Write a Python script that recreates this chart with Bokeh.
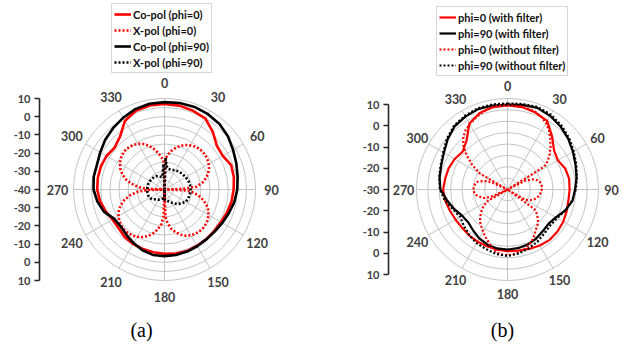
import math
from bokeh.plotting import figure
from bokeh.models import Range1d, LinearAxis, FixedTicker, Legend, LegendItem, CustomJSTickFormatter
from bokeh.layouts import row
from bokeh.embed import file_html
from bokeh.resources import INLINE
from bokeh.core.properties import value

# ---------------- data ----------------
ANGLE_TICKS = [0, 30, 60, 90, 120, 150, 180, 210, 240, 270, 300, 330]
ANG10 = list(range(0, 360, 10))

# panel (a): radial scale -40 .. 10 dB
A_RED_CO = [7, 6.8, 6, 5, 1.3, -2.5, -3, -1, -1.3, -2, -2.6, -3.4, -4.2, -4.4, -4.3, -4.3, -4, -4.3,
            -4.7, -5, -5.2, -5.5, -6, -7, -7, -5.5, -4, -3, -2.8, -2.8, -3.2, -4.2, -2, 3.5, 6, 6.9]
A_BLACK_CO = [8, 8.3, 8.3, 7.8, 7, 5.5, 3.5, 2, 0.8, 0, -1, -2.3, -3.3, -4, -4.2, -4, -3.7, -3.5,
              -3.4, -3.5, -4.5, -6, -7.5, -8.5, -8, -4.5, -2.5, -1, -0.5, -0.5, 0.8, 2.5, 4, 5.5, 7, 7.8]
A_RED_X_ANG = [0, 2, 5, 10, 15, 20, 25, 30, 35, 40, 45, 50, 55, 60, 65, 70, 75, 80, 85, 88,
               90, 92, 95, 100, 105, 110, 115, 120, 125, 130, 135, 140, 145, 150, 155, 160, 165, 170, 175, 178,
               180, 182, 185, 190, 195, 200, 205, 210, 215, 220, 225, 230, 235, 240, 245, 250, 255, 260, 265, 268,
               270, 272, 275, 280, 285, 290, 295, 300, 305, 310, 315, 320, 325, 330, 335, 340, 345, 350, 355, 358]
A_RED_X = [-40, -23, -21, -18.5, -16.3, -14.5, -13, -12, -11.2, -10.7, -10.5, -10.7, -11.2, -12, -13, -14.5, -16.5, -19, -22.5, -29.5,
           -40, -29.5, -25, -21, -18, -15.5, -13.5, -12, -11, -10.4, -10, -10, -10.3, -11, -12, -13.5, -15.5, -18, -21.5, -25,
           -40, -25, -21, -17.5, -14.8, -12.7, -11.2, -10, -9.2, -8.8, -8.7, -9, -9.7, -10.8, -12.3, -14.3, -17, -20.5, -25, -30.5,
           -40, -30.5, -26, -21.5, -18, -15.3, -13.2, -11.7, -10.6, -9.9, -9.5, -9.6, -10.1, -11, -12.4, -14.3, -16.8, -19.5, -22.5, -24]
A_BLACK_X_ANG = [0, 2, 5, 10, 20, 30, 40, 50, 60, 70, 80, 90, 100, 110, 120, 130, 140, 150, 160, 170, 178,
                 180, 182, 190, 200, 210, 220, 230, 240, 250, 260, 270, 280, 290, 300, 310, 320, 330, 340, 350, 358]
A_BLACK_X = [-40, -22.5, -27, -28.5, -28.5, -27.8, -27.3, -27, -26.5, -26, -25.8, -25.7, -25.8, -26, -26.5, -28, -29.5, -31.5, -33, -34, -34,
             -40, -34, -35, -34.5, -33.5, -33, -31.5, -30.7, -30.5, -30.5, -30.5, -30.5, -30.6, -30.8, -31, -31, -31.5, -32.5, -33, -26]

# panel (b): radial scale -30 .. 10 dB
B_RED_F = [7, 6.8, 6, 4.8, 0.5, -3.3, -4.4, -3, -2.5, -2.7, -2.8, -2.3, -1.7, -1.3, -1.1, -1.6, -2.2, -2.7,
           -2.9, -3.2, -3.5, -3.6, -3.7, -3.9, -3.6, -3, -2.2, -1.7, -2.2, -2.5, -3.2, -4.2, -2, 3.5, 5.8, 6.8]
B_BLACK_F = [7.3, 7.8, 8.2, 7.4, 6.2, 4.8, 3.2, 1.8, 0.8, -0.3, -1, -3, -5.5, -6.5, -6, -5, -4.2, -3.8,
             -3.6, -3.7, -4.2, -5.2, -6.5, -7.5, -7, -5, -3, -0.5, 0.3, 1, 2.3, 4.3, 6.2, 7, 7.6, 7.5]
B_RED_NF_ANG = [0, 5, 10, 15, 20, 25, 30, 35, 40, 45, 50, 55, 58, 61, 64, 68, 72, 76, 80, 85, 90, 95, 100, 105,
                110, 115, 120, 123, 126, 130, 135, 140, 145, 150, 155, 160, 165, 170, 175, 180, 185, 190, 195,
                200, 205, 210, 215, 220, 225, 230, 235, 240, 243, 246, 250, 255, 260, 265, 270, 275, 280, 285,
                290, 294, 297, 300, 305, 310, 315, 320, 325, 330, 335, 340, 345, 350, 355]
B_RED_NF = [7.3, 7.2, 7.0, 6.7, 6.2, 5.2, 3.8, 1.8, -0.8, -3.2, -5.8, -8.5, -11, -30, -21, -18, -16.5, -15.5, -15, -14.8, -14.9, -15.2, -15.8, -16.4,
            -17.5, -19, -21, -30, -15.5, -13, -11, -9.5, -8.3, -6.5, -4.8, -3.6, -2.6, -1.8, -1.3, -1.1, -1.3, -2, -3.5,
            -5.5, -7, -8.5, -10, -11.3, -13, -15, -17, -20, -30, -22, -19, -17.5, -16, -15.3, -15, -15.2, -15.6, -16.5,
            -19, -22, -30, -16, -11, -6.5, -2.5, 0.2, 2, 3.2, 4.2, 5.3, 6.2, 6.8, 7.2]
B_BLACK_NF = [7.8, 8.2, 8.6, 8, 6.8, 5.3, 3.6, 2.2, 1, 0, -1.2, -3, -4.8, -5.5, -4.8, -3.6, -2.5, -1.5,
              -0.8, -1.2, -2.2, -2.8, -3.8, -5, -6, -4.5, -2, -0.3, 0.5, 1.3, 2.6, 4.8, 6.6, 7.4, 8, 8]

A_LEGEND = ["Co-pol (phi=0)", "X-pol (phi=0)", "Co-pol (phi=90)", "X-pol (phi=90)"]
B_LEGEND = ["phi=0 (with filter)", "phi=90 (with filter)", "phi=0 (without filter)", "phi=90 (without filter)"]
PANEL_LABELS = ["(a)", "(b)"]

H = 351
LBL_FONT = "Lato"
GRAY_TXT = "#404040"
GRID = "#bdbdbd"


def polar_xy(angles, dbs, dbmin, dbmax, R):
    xs, ys = [], []
    for a, d in zip(angles, dbs):
        r = (max(d, dbmin) - dbmin) / (dbmax - dbmin) * R
        t = math.radians(a)
        xs.append(r * math.sin(t))
        ys.append(r * math.cos(t))
    xs.append(xs[0])
    ys.append(ys[0])
    return xs, ys


def make_panel(width, frame_left, cx, cy, ppu, R_px, dbmin, dbmax, ring_step, axis_half,
               label_r_px, panel_label, label_pos_px):
    R = R_px / ppu
    p = figure(width=width, height=H, output_backend="svg", toolbar_location=None,
               x_axis_type=None, y_axis_type=None,
               x_range=Range1d(-(cx - frame_left) / ppu, (width - cx) / ppu),
               y_range=Range1d(-(H - cy) / ppu, cy / ppu),
               min_border_left=frame_left, min_border_right=0, min_border_top=0, min_border_bottom=0)
    p.outline_line_color = None
    p.background_fill_color = "white"
    p.border_fill_color = "white"

    # rings and spokes
    n = int(round((dbmax - dbmin) / ring_step))
    radii = [(k * ring_step) / (dbmax - dbmin) * R for k in range(1, n + 1)]
    p.circle(x=[0] * len(radii), y=[0] * len(radii), radius=radii, fill_color=None,
             line_color=GRID, line_width=0.9)
    p.segment(x0=[0] * len(ANGLE_TICKS), y0=[0] * len(ANGLE_TICKS),
              x1=[R * math.sin(math.radians(a)) for a in ANGLE_TICKS],
              y1=[R * math.cos(math.radians(a)) for a in ANGLE_TICKS],
              line_color=GRID, line_width=0.9)
    lr = label_r_px / ppu
    p.text(x=[lr * math.sin(math.radians(a)) for a in ANGLE_TICKS],
           y=[lr * math.cos(math.radians(a)) for a in ANGLE_TICKS],
           text=[str(a) for a in ANGLE_TICKS], text_align="center", text_baseline="middle",
           text_font=value(LBL_FONT), text_font_style="bold", text_font_size="12.5px",
           text_color=GRAY_TXT)

    # radial dB axis
    ticks = list(range(-axis_half, axis_half + 1, 10))
    axis = LinearAxis(ticker=FixedTicker(ticks=ticks), bounds=(-axis_half, axis_half),
                      formatter=CustomJSTickFormatter(code="return String(%d + Math.abs(tick));" % (dbmax - axis_half)))
    axis.axis_line_color = "#262626"
    axis.axis_line_width = 1.6
    axis.major_tick_line_color = "#262626"
    axis.major_tick_line_width = 1.6
    axis.major_tick_out = 5
    axis.major_tick_in = 0
    axis.minor_tick_out = 0
    axis.minor_tick_in = 0
    axis.major_label_standoff = 4
    axis.major_label_text_font = LBL_FONT
    axis.major_label_text_font_style = "bold"
    axis.major_label_text_font_size = "11px"
    axis.major_label_text_color = GRAY_TXT
    p.add_layout(axis, "left")

    p.text(x=[(label_pos_px[0] - cx) / ppu], y=[(cy - label_pos_px[1]) / ppu], text=[panel_label],
           text_align="center", text_baseline="middle", text_font=value("Liberation Serif"),
           text_font_size="20px", text_color="black")
    return p, R


def style_legend(p, items, loc):
    lg = Legend(items=items, location=loc)
    lg.label_text_font = LBL_FONT
    lg.label_text_font_style = "bold"
    lg.label_text_font_size = "11px"
    lg.label_text_color = "#111111"
    lg.glyph_width = 17
    lg.glyph_height = 16
    lg.label_height = 16
    lg.label_standoff = 2
    lg.padding = 2
    lg.spacing = 0
    lg.margin = 0
    lg.border_line_color = "#b0b0b0"
    lg.border_line_width = 1
    lg.background_fill_color = "white"
    lg.background_fill_alpha = 1
    p.add_layout(lg)


# ---------------- panel (a) ----------------
pa, Ra = make_panel(width=310, frame_left=39, cx=164, cy=189, ppu=1.82, R_px=91,
                    dbmin=-40, dbmax=10, ring_step=5, axis_half=50, label_r_px=107,
                    panel_label=PANEL_LABELS[0], label_pos_px=(141, 329))
xa, ya = polar_xy(ANG10, A_RED_CO, -40, 10, Ra)
r1 = pa.line(xa, ya, line_color="#ff0000", line_width=2.6)
xa, ya = polar_xy(A_RED_X_ANG, A_RED_X, -40, 10, Ra)
r2 = pa.line(xa, ya, line_color="#ff0000", line_width=2.6, line_dash="2 2")
xa, ya = polar_xy(ANG10, A_BLACK_CO, -40, 10, Ra)
r3 = pa.line(xa, ya, line_color="black", line_width=2.6)
xa, ya = polar_xy(A_BLACK_X_ANG, A_BLACK_X, -40, 10, Ra)
r4 = pa.line(xa, ya, line_color="black", line_width=2.6, line_dash="2 2")
style_legend(pa, [LegendItem(label=A_LEGEND[i], renderers=[r]) for i, r in enumerate([r1, r2, r3, r4])],
             (111 - 39, H - 73))

# ---------------- panel (b) ----------------
pb, Rb = make_panel(width=313, frame_left=78, cx=197, cy=189, ppu=2.125, R_px=91,
                    dbmin=-30, dbmax=10, ring_step=5, axis_half=40, label_r_px=104,
                    panel_label=PANEL_LABELS[1], label_pos_px=(192, 329))
xb, yb = polar_xy(ANG10, B_RED_F, -30, 10, Rb)
s1 = pb.line(xb, yb, line_color="#ff0000", line_width=2.2)
xb, yb = polar_xy(ANG10, B_BLACK_F, -30, 10, Rb)
s2 = pb.line(xb, yb, line_color="black", line_width=2.2)
xb, yb = polar_xy(B_RED_NF_ANG, B_RED_NF, -30, 10, Rb)
s3 = pb.line(xb, yb, line_color="#ff0000", line_width=2.2, line_dash="2 2")
xb, yb = polar_xy(ANG10, B_BLACK_NF, -30, 10, Rb)
s4 = pb.line(xb, yb, line_color="black", line_width=2.2, line_dash="2 2")
style_legend(pb, [LegendItem(label=B_LEGEND[i], renderers=[r]) for i, r in enumerate([s1, s2, s3, s4])],
             (436 - 388, H - 76))

layout = row(pa, pb)
open("out.html", "w").write(file_html(layout, INLINE))
